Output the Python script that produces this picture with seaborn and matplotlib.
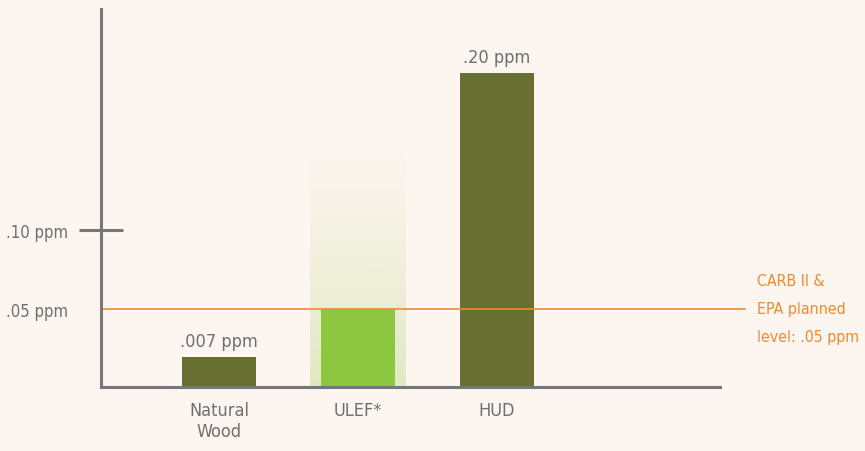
"""Formaldehyde emission levels - bar chart recreation"""

import numpy as np
import pandas as pd
import matplotlib
matplotlib.use("Agg")
import matplotlib.pyplot as plt
from matplotlib import font_manager
import seaborn as sns

# data (bar heights as drawn, labels as printed)
categories = ["Natural\nWood", "ULEF*", "HUD"]
bar_heights = [0.019, 0.05, 0.20]
bar_labels = [".007 ppm", "", ".20 ppm"]
bar_colors = ["#676f31", "#8dc63f", "#676f31"]
ytick_values = [0.05, 0.10]
ytick_labels = [".05 ppm", ".10 ppm"]
limit_value = 0.05
limit_text = "CARB II &\nEPA planned\nlevel: .05 ppm"

BG = "#fdf5f0"
GRAY = "#6f6f72"
AXIS = "#77777b"
ORANGE = "#f28a2e"

sns.set_theme(style="white")

# look for a narrow face, the original uses a condensed font
fonts = font_manager.fontManager.ttflist
narrow = [f for f in fonts if f.stretch in ("condensed", "semi-condensed", "extra-condensed")
          or "Narrow" in f.name or "Condensed" in f.name]
if narrow:
    pick = narrow[0]
    plt.rcParams["font.family"] = [pick.name, "DejaVu Sans"]
    plt.rcParams["font.stretch"] = pick.stretch
    FS = 12
else:
    plt.rcParams["font.family"] = ["DejaVu Sans"]
    FS = 11

df = pd.DataFrame({"category": categories, "value": bar_heights})

fig = plt.figure(figsize=(8.65, 4.52), dpi=100, facecolor=BG)
ax = fig.add_axes([101 / 865, 1 - 388 / 452, 619 / 865, 378 / 452])
ax.set_facecolor(BG)

# soft glow behind the ULEF bar
fade = np.linspace(0, 1, 256)
glow = np.zeros((256, 1, 4))
glow[:, 0, 0] = 0.80
glow[:, 0, 1] = 0.89
glow[:, 0, 2] = 0.65
glow[:, 0, 3] = 0.6 * (1 - fade) ** 1.1
ax.imshow(glow, extent=(1 - 0.345, 1 + 0.345, 0, 0.152), origin="lower",
          aspect="auto", zorder=0.5, interpolation="bilinear")

sns.barplot(data=df, x="category", y="value", hue="category", palette=bar_colors,
            legend=False, width=0.532, saturation=1, linewidth=0, ax=ax, zorder=2)

ax.set_xlim(-0.849, 3.604)
ax.set_ylim(0, 0.2408)

for i, (h, lab) in enumerate(zip(bar_heights, bar_labels)):
    if lab:
        ax.text(i, h + 0.0045, lab, ha="center", va="bottom", color=GRAY, fontsize=FS + 1)

# regulation line
ax.axhline(limit_value, xmin=0, xmax=(745 - 101) / 619, color=ORANGE, lw=1.2,
           clip_on=False, zorder=3)
ax.text(1.0 + 37 / 619, limit_value, limit_text, transform=ax.get_yaxis_transform(),
        ha="left", va="center", color=ORANGE, fontsize=FS - 0.6, linespacing=2.05)

ax.set_yticks(ytick_values)
ax.set_yticklabels(ytick_labels, color=GRAY, fontsize=FS)
ax.tick_params(axis="y", direction="inout", length=32, width=2.2, color=AXIS, pad=8, left=True)
ax.yaxis.get_major_ticks()[0].tick1line.set_visible(False)

ax.tick_params(axis="x", length=0, pad=10, labelsize=FS + 1, labelcolor=GRAY)
ax.set_xlabel("")
ax.set_ylabel("")

for side in ["top", "right"]:
    ax.spines[side].set_visible(False)
for side in ["left", "bottom"]:
    ax.spines[side].set_color(AXIS)
    ax.spines[side].set_linewidth(2.2)
    ax.spines[side].set_zorder(4)

fig.savefig("out.png", dpi=100, facecolor=BG)
plt.close(fig)
